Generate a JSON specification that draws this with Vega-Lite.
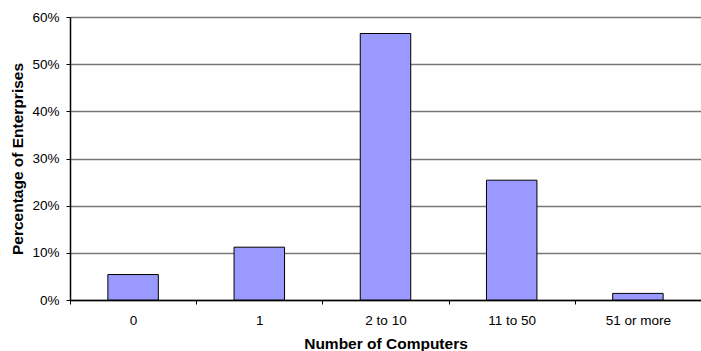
{
  "$schema": "https://vega.github.io/schema/vega-lite/v6.json",
  "width": 631,
  "height": 283,
  "autosize": {"type": "none"},
  "padding": {"left": 70, "top": 17, "right": 0, "bottom": 51},
  "background": "white",
  "config": {
    "view": {"stroke": null},
    "font": "Arial, 'Liberation Sans', sans-serif",
    "axis": {"labelFont": "Arial, 'Liberation Sans', sans-serif", "titleFont": "Arial, 'Liberation Sans', sans-serif", "labelColor": "black", "titleColor": "black"}
  },
  "data": {
    "values": [
      {"computers": "0", "pct": 0.054},
      {"computers": "1", "pct": 0.112},
      {"computers": "2 to 10", "pct": 0.565},
      {"computers": "11 to 50", "pct": 0.254},
      {"computers": "51 or more", "pct": 0.014}
    ]
  },
  "mark": {"type": "bar", "color": "#9999FF", "stroke": "black", "strokeWidth": 1, "width": {"band": 0.4}},
  "encoding": {
    "x": {
      "field": "computers",
      "type": "nominal",
      "sort": null,
      "scale": {"paddingInner": 0, "paddingOuter": 0},
      "axis": {
        "title": "Number of Computers",
        "titleFontSize": 15.5,
        "titleFontWeight": "bold",
        "titleBaseline": "top",
        "titleY": 36,
        "labelAngle": 0,
        "labelFontSize": 13.5,
        "labelPadding": 9,
        "labelBaseline": "top",
        "tickBand": "extent",
        "ticks": true,
        "tickColor": "black",
        "tickSize": 4,
        "tickWidth": 1,
        "domainColor": "black",
        "domainWidth": 1.5,
        "grid": false
      }
    },
    "y": {
      "field": "pct",
      "type": "quantitative",
      "scale": {"domain": [0, 0.6], "nice": false},
      "axis": {
        "title": "Percentage of Enterprises",
        "titleFontSize": 15.5,
        "titleFontWeight": "bold",
        "titleBaseline": "middle",
        "titleX": -53,
        "values": [0, 0.1, 0.2, 0.3, 0.4, 0.5, 0.6],
        "format": ".0%",
        "labelFontSize": 13.5,
        "labelPadding": 7,
        "tickColor": "black",
        "tickSize": 4,
        "domainColor": "black",
        "domainWidth": 1.5,
        "grid": true,
        "gridColor": "#777777",
        "gridWidth": 1.3
      }
    }
  }
}
